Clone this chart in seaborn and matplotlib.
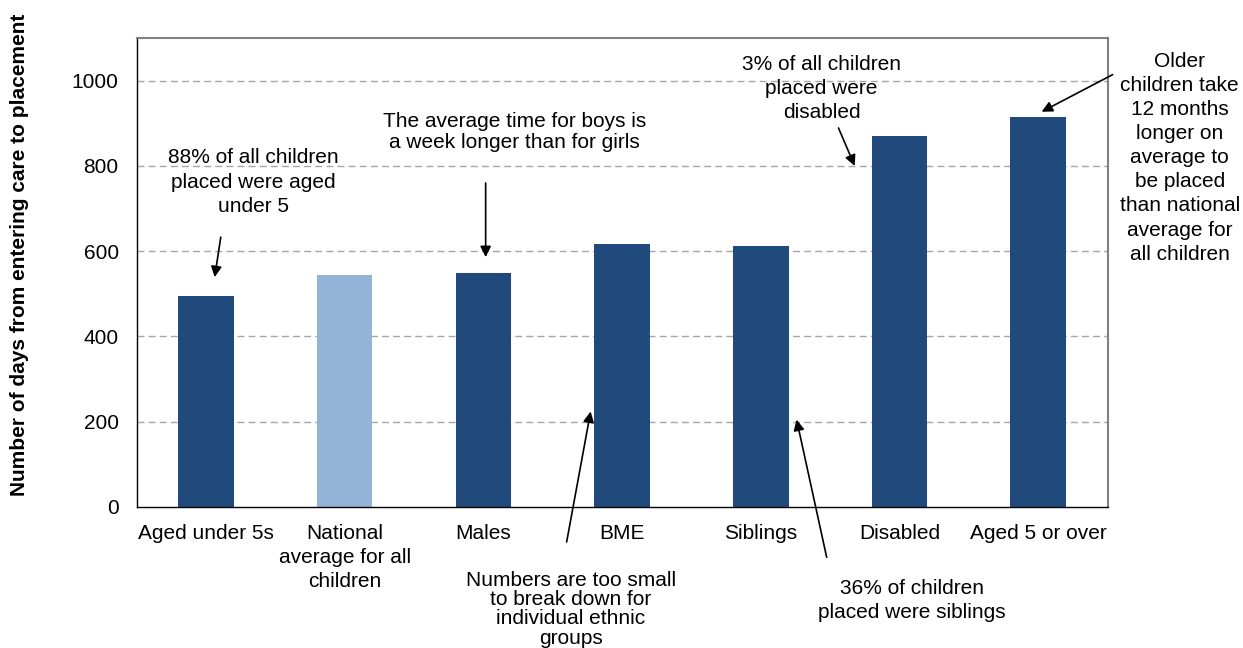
import matplotlib
matplotlib.use("Agg")
import matplotlib.pyplot as plt
import seaborn as sns
import numpy as np

categories = ["Aged under 5s", "National\naverage for all\nchildren", "Males", "BME",
              "Siblings", "Disabled", "Aged 5 or over"]
values = [494, 544, 548, 617, 612, 870, 915]
bar_colors = ["#214A7C", "#95B3D7", "#214A7C", "#214A7C", "#214A7C", "#214A7C", "#214A7C"]
y_ticks = [0, 200, 400, 600, 800, 1000]

sns.set_style("white")
plt.rcParams["font.family"] = ["Liberation Sans", "DejaVu Sans"]
plt.rcParams["text.color"] = "black"
plt.rcParams["xtick.color"] = "black"
plt.rcParams["ytick.color"] = "black"
plt.rcParams["axes.labelcolor"] = "black"

FS = 15

fig = plt.figure(figsize=(12.43, 6.48), dpi=100)
ax = fig.add_axes([0.110, 0.2176, 0.781, 0.7238])

sns.barplot(x=categories, y=values, hue=categories, palette=bar_colors,
            width=0.4, legend=False, ax=ax, saturation=1, edgecolor="none")

ax.set_ylim(0, 1100)
ax.set_xlim(-0.5, len(categories) - 0.5)
ax.set_yticks(y_ticks)
ax.set_yticklabels([str(t) for t in y_ticks], fontsize=FS)
for t in y_ticks[1:]:
    ax.axhline(t, color="#A6A6A6", lw=1.0, ls=(0, (5, 3)), zorder=0)
ax.set_axisbelow(True)

# x ticks: labels at centres, tick marks at boundaries
ax.set_xticks(range(len(categories)))
ax.set_xticklabels(categories, fontsize=FS, linespacing=1.34)
ax.set_xticks(np.arange(-0.5, len(categories), 1.0), minor=True)
ax.tick_params(axis="x", which="major", length=0, pad=12)
ax.tick_params(axis="x", which="minor", length=6, width=1, color="black", direction="out")
ax.tick_params(axis="y", which="major", length=5, width=1, color="black", direction="out", pad=8)
ax.tick_params(axis="y", which="minor", length=0)

for side in ["left", "bottom"]:
    ax.spines[side].set_color("black")
    ax.spines[side].set_linewidth(1.0)
for side in ["top", "right"]:
    ax.spines[side].set_color("#808080")
    ax.spines[side].set_linewidth(1.5)

ax.set_xlabel("")
ax.set_ylabel("Number of days from entering care to placement", fontsize=FS,
              fontweight="bold")
ax.yaxis.set_label_coords(-0.1107, 0.538)

arrow = dict(arrowstyle="-|>", color="black", lw=1.2, mutation_scale=16,
             shrinkA=0, shrinkB=0)

def note(text, xy_text, head, tail, ls=1.2):
    ax.text(xy_text[0], xy_text[1], text, ha="center", va="center",
            fontsize=FS, linespacing=ls, clip_on=False)
    ax.annotate("", xy=head, xytext=tail, arrowprops=arrow, annotation_clip=False)

note("88% of all children\nplaced were aged\nunder 5", (0.344, 762),
     (0.062, 539), (0.106, 633), ls=1.36)
note("The average time for boys is\na week longer than for girls", (2.225, 880),
     (2.016, 586), (2.016, 760), ls=1.15)
note("3% of all children\nplaced were\ndisabled", (4.439, 982),
     (4.677, 800), (4.56, 889), ls=1.34)
note("Older\nchildren take\n12 months\nlonger on\naverage to\nbe placed\nthan national\naverage for\nall children",
     (7.02, 819), (6.025, 927), (6.537, 1014), ls=1.34)
note("Numbers are too small\nto break down for\nindividual ethnic\ngroups", (2.629, -240),
     (2.773, 224), (2.60, -82), ls=1.02)
note("36% of children\nplaced were siblings", (5.088, -219),
     (4.258, 205), (4.475, -118), ls=1.3)

fig.savefig("out.png", dpi=100)
